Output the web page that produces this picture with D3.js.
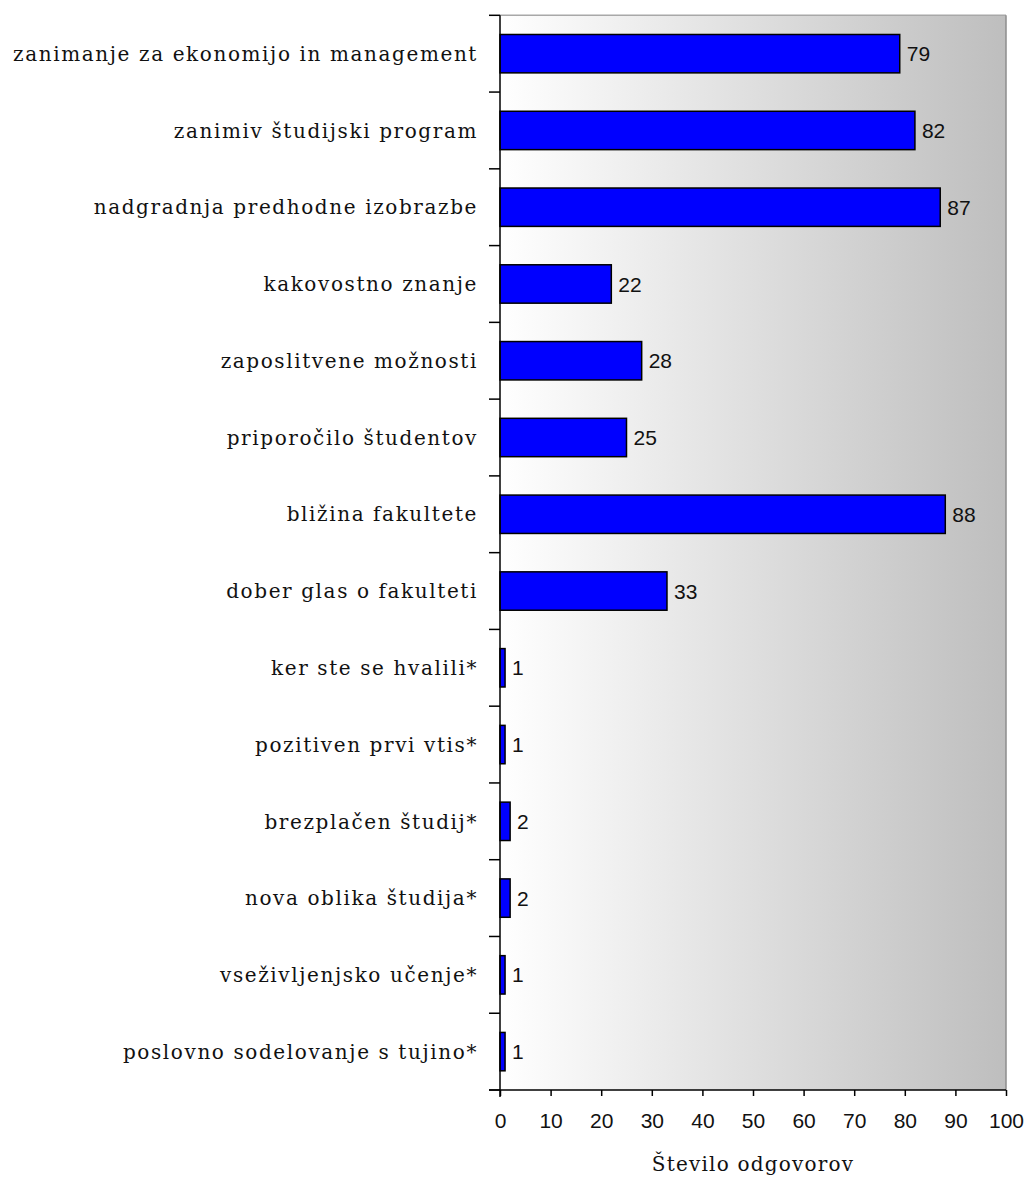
<!DOCTYPE html>
<html>
<head>
<meta charset="utf-8">
<script src="https://cdn.jsdelivr.net/npm/d3@7"></script>
<style>
  html, body { margin: 0; padding: 0; background: #fff; }
  svg { display: block; }
</style>
</head>
<body>
<svg id="chart" width="1024" height="1178"></svg>
<script>
const categories = [
  "zanimanje za ekonomijo in management",
  "zanimiv študijski program",
  "nadgradnja predhodne izobrazbe",
  "kakovostno znanje",
  "zaposlitvene možnosti",
  "priporočilo študentov",
  "bližina fakultete",
  "dober glas o fakulteti",
  "ker ste se hvalili*",
  "pozitiven prvi vtis*",
  "brezplačen študij*",
  "nova oblika študija*",
  "vseživljenjsko učenje*",
  "poslovno sodelovanje s tujino*"
];
const values = [79, 82, 87, 22, 28, 25, 88, 33, 1, 1, 2, 2, 1, 1];
const xTicks = [0, 10, 20, 30, 40, 50, 60, 70, 80, 90, 100];
const xTitle = "Število odgovorov";

(function () {
const svg = d3.select("#chart");
const pL = 500, pR = 1006, pT = 15.3, pB = 1090;

const x = d3.scaleLinear().domain([0, 100]).range([pL, pR]);
const y = d3.scaleBand().domain(categories).range([pT, pB])
  .paddingInner(0.5).paddingOuter(0.25);

// background gradient
const defs = svg.append("defs");
const grad = defs.append("linearGradient").attr("id", "bg")
  .attr("x1", "0%").attr("x2", "100%").attr("y1", "0%").attr("y2", "0%");
grad.append("stop").attr("offset", "0%").attr("stop-color", "#ffffff");
grad.append("stop").attr("offset", "100%").attr("stop-color", "#bebebe");

svg.append("rect")
  .attr("x", pL).attr("y", pT)
  .attr("width", pR - pL).attr("height", pB - pT)
  .attr("fill", "url(#bg)");

// border top & right
svg.append("line").attr("x1", pL).attr("x2", pR).attr("y1", pT).attr("y2", pT)
  .attr("stroke", "#a8a8a8").attr("stroke-width", 1.5);
svg.append("line").attr("x1", pR).attr("x2", pR).attr("y1", pT).attr("y2", pB)
  .attr("stroke", "#8c8c8c").attr("stroke-width", 1.5);

// bars
svg.append("g").selectAll("rect").data(values).join("rect")
  .attr("x", x(0))
  .attr("y", (d, i) => y(categories[i]))
  .attr("width", d => x(d) - x(0))
  .attr("height", y.bandwidth())
  .attr("fill", "#0000ff")
  .attr("stroke", "#000")
  .attr("stroke-width", 1.5);

// value labels
svg.append("g").selectAll("text").data(values).join("text")
  .attr("x", d => x(d) + 7)
  .attr("y", (d, i) => y(categories[i]) + y.bandwidth() / 2)
  .attr("dy", "0.36em")
  .attr("font-family", "Liberation Sans, Arial, sans-serif")
  .attr("font-size", 21)
  .attr("fill", "#111")
  .text(d => d);

// x axis
const xAxis = svg.append("g")
  .attr("transform", `translate(0,${pB})`)
  .call(d3.axisBottom(x).tickValues(xTicks).tickSize(6).tickSizeOuter(0).tickPadding(17));
xAxis.select(".domain").remove();
xAxis.selectAll(".tick line").attr("stroke", "#000").attr("stroke-width", 1.5);
xAxis.selectAll(".tick text")
  .attr("font-family", "Liberation Sans, Arial, sans-serif")
  .attr("font-size", 21)
  .attr("fill", "#111");
svg.append("line").attr("x1", pL - 11).attr("x2", pR).attr("y1", pB).attr("y2", pB)
  .attr("stroke", "#000").attr("stroke-width", 1.5);

// y axis line & boundary ticks
const step = y.step();
const boundaries = categories.map(c => y(c) - step * 0.25).concat([pB]);
svg.append("line").attr("x1", pL).attr("x2", pL).attr("y1", pT).attr("y2", pB + 7)
  .attr("stroke", "#000").attr("stroke-width", 1.5);
svg.append("g").selectAll("line").data(boundaries).join("line")
  .attr("x1", pL - 11).attr("x2", pL)
  .attr("y1", d => d).attr("y2", d => d)
  .attr("stroke", "#000").attr("stroke-width", 1.5);

// category labels
svg.append("g").selectAll("text").data(categories).join("text")
  .attr("x", pL - 22)
  .attr("y", d => y(d) + y.bandwidth() / 2)
  .attr("dy", "0.36em")
  .attr("text-anchor", "end")
  .attr("font-family", "DejaVu Serif, serif")
  .attr("font-size", 20)
  .attr("letter-spacing", 1.6)
  .attr("fill", "#111")
  .text(d => d);

// axis title
svg.append("text")
  .attr("x", (pL + pR) / 2)
  .attr("y", 1171)
  .attr("text-anchor", "middle")
  .attr("font-family", "DejaVu Serif, serif")
  .attr("font-size", 20)
  .attr("letter-spacing", 1.2)
  .attr("fill", "#111")
  .text(xTitle);
})();
</script>
</body>
</html>
